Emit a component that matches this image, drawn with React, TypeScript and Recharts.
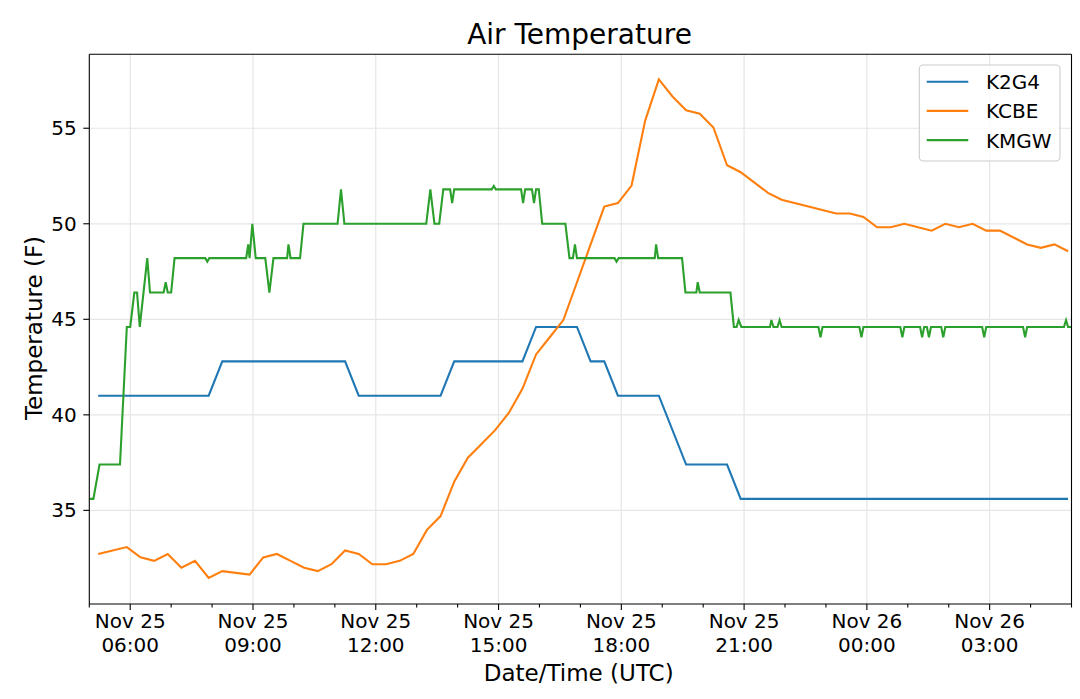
import React from 'react';
import { LineChart, Line, XAxis, YAxis, CartesianGrid } from 'recharts';

// times are minutes since Nov 25 00:00 UTC
const k2g4Times = [313, 475, 495, 675, 695, 815, 835, 935, 955, 1015, 1035, 1055, 1075, 1135, 1175, 1235, 1255, 1735];
const k2g4Temps = [41.0, 41.0, 42.8, 42.8, 41.0, 41.0, 42.8, 42.8, 44.6, 44.6, 42.8, 42.8, 41.0, 41.0, 37.4, 37.4, 35.6, 35.6];

const kcbeTimes = [
  313, 355, 375, 395, 415, 435, 455, 475, 495, 535,
  555, 575, 595, 615, 635, 655, 675, 695, 715, 735,
  755, 775, 795, 815, 835, 855, 875, 895, 915, 935,
  955, 975, 995, 1015, 1035, 1055, 1075, 1095, 1115, 1135,
  1155, 1175, 1195, 1215, 1235, 1255, 1295, 1315, 1395, 1415,
  1435, 1455, 1475, 1495, 1515, 1535, 1555, 1575, 1595, 1615,
  1635, 1655, 1675, 1695, 1715, 1735,
];
const kcbeTemps = [
  32.72, 33.08, 32.54, 32.36, 32.72, 32.0, 32.36, 31.46, 31.82, 31.64,
  32.54, 32.72, 32.36, 32.0, 31.82, 32.18, 32.9, 32.72, 32.18, 32.18,
  32.36, 32.72, 33.98, 34.7, 36.5, 37.76, 38.48, 39.2, 40.1, 41.36,
  43.16, 44.06, 44.96, 46.94, 48.92, 50.9, 51.08, 52.0, 55.4, 57.56,
  56.66, 55.94, 55.76, 55.04, 53.06, 52.7, 51.62, 51.26, 50.54, 50.54,
  50.36, 49.82, 49.82, 50.0, 49.82, 49.64, 50.0, 49.82, 50.0, 49.64,
  49.64, 49.28, 48.92, 48.74, 48.92, 48.56,
];

const kmgwTimes = [
  300, 306, 315, 345, 355, 360, 366, 370, 374, 385,
  389, 409, 412, 415, 420, 425, 470, 473, 476, 530,
  533, 535, 539, 544, 558, 564, 570, 590, 592, 595,
  609, 614, 664, 669, 674, 794, 800, 806, 813, 819,
  829, 832, 835, 890, 893, 896, 933, 936, 939, 949,
  952, 955, 959, 964, 998, 1004, 1009, 1012, 1015, 1070,
  1073, 1076, 1129, 1131, 1134, 1169, 1174, 1190, 1192, 1195,
  1240, 1245, 1249, 1252, 1256, 1298, 1300, 1303, 1309, 1312,
  1315, 1369, 1372, 1375, 1429, 1432, 1435, 1489, 1492, 1495,
  1518, 1521, 1524, 1528, 1531, 1534, 1549, 1552, 1555, 1609,
  1612, 1615, 1669, 1672, 1675, 1729, 1732, 1735, 1740,
];
const kmgwTemps = [
  35.6, 35.6, 37.4, 37.4, 44.6, 44.6, 46.4, 46.4, 44.6, 48.2,
  46.4, 46.4, 46.94, 46.4, 46.4, 48.2, 48.2, 48.02, 48.2, 48.2,
  48.92, 48.2, 50.0, 48.2, 48.2, 46.4, 48.2, 48.2, 48.92, 48.2,
  48.2, 50.0, 50.0, 51.8, 50.0, 50.0, 51.8, 50.0, 50.0, 51.8,
  51.8, 51.08, 51.8, 51.8, 51.98, 51.8, 51.8, 51.08, 51.8, 51.8,
  51.08, 51.8, 51.8, 50.0, 50.0, 48.2, 48.2, 48.92, 48.2, 48.2,
  48.02, 48.2, 48.2, 48.92, 48.2, 48.2, 46.4, 46.4, 46.94, 46.4,
  46.4, 44.6, 44.6, 44.96, 44.6, 44.6, 44.96, 44.6, 44.6, 44.96,
  44.6, 44.6, 44.06, 44.6, 44.6, 44.06, 44.6, 44.6, 44.06, 44.6,
  44.6, 44.06, 44.6, 44.6, 44.06, 44.6, 44.6, 44.06, 44.6, 44.6,
  44.06, 44.6, 44.6, 44.06, 44.6, 44.6, 44.96, 44.6, 44.6,
];

const xMajorTicks = [360, 540, 720, 900, 1080, 1260, 1440, 1620];
const xMajorDates = ['Nov 25', 'Nov 25', 'Nov 25', 'Nov 25', 'Nov 25', 'Nov 25', 'Nov 26', 'Nov 26'];
const xMajorTimes = ['06:00', '09:00', '12:00', '15:00', '18:00', '21:00', '00:00', '03:00'];
const xHourTicks = [
  300, 360, 420, 480, 540, 600, 660, 720, 780, 840, 900, 960, 1020,
  1080, 1140, 1200, 1260, 1320, 1380, 1440, 1500, 1560, 1620, 1680, 1740,
];
const yTicks = [35, 40, 45, 50, 55];
const xDomain = [300, 1740];
const yDomain = [30.1, 58.87];

const FONT = "'DejaVu Sans', sans-serif";

const zip = (ts: number[], vs: number[]) => ts.map((t, i) => ({ t, v: vs[i] }));

const series = [
  { name: 'K2G4', color: '#1f77b4', data: zip(k2g4Times, k2g4Temps) },
  { name: 'KCBE', color: '#ff7f0e', data: zip(kcbeTimes, kcbeTemps) },
  { name: 'KMGW', color: '#2ca02c', data: zip(kmgwTimes, kmgwTemps) },
];

const XTick = (props: any) => {
  const { x, y, payload } = props;
  const idx = xMajorTicks.indexOf(payload.value);
  const major = idx >= 0;
  return (
    <g>
      <line x1={x} x2={x} y1={y} y2={y + (major ? 6 : 3.5)} stroke="#000" strokeWidth={1.1} />
      {major && (
        <text textAnchor="middle" fontSize={20} fill="#000" fontFamily={FONT}>
          <tspan x={x} y={y + 24.3}>{xMajorDates[idx]}</tspan>
          <tspan x={x} y={y + 48.3}>{xMajorTimes[idx]}</tspan>
        </text>
      )}
    </g>
  );
};

export default function App() {
  return (
    <div style={{ position: 'absolute', left: 0, top: 0, width: 1080, height: 699, background: '#fff' }}>
      <LineChart
        width={1080}
        height={699}
        margin={{ top: 53.3, right: 7.5, bottom: 0, left: 9.3 }}
      >
        <CartesianGrid
          stroke="#e6e6e6"
          strokeWidth={1.2}
          verticalValues={xMajorTicks}
          horizontalValues={yTicks}
        />
        <XAxis
          type="number"
          dataKey="t"
          domain={xDomain}
          allowDataOverflow
          ticks={xHourTicks}
          interval={0}
          tick={<XTick />}
          tickLine={false}
          tickSize={0}
          tickMargin={0}
          height={95}
          stroke="#000"
          axisLine={{ stroke: '#000', strokeWidth: 1.1 }}
        />
        <XAxis
          xAxisId="top"
          orientation="top"
          type="number"
          dataKey="t"
          domain={xDomain}
          allowDataOverflow
          height={1}
          tick={false}
          tickLine={false}
          axisLine={{ stroke: '#000', strokeWidth: 1.1 }}
        />
        <YAxis
          type="number"
          domain={yDomain}
          allowDataOverflow
          ticks={yTicks}
          interval={0}
          width={80}
          tickSize={6}
          tickMargin={6.6}
          stroke="#000"
          tickLine={{ stroke: '#000', strokeWidth: 1.1 }}
          axisLine={{ stroke: '#000', strokeWidth: 1.1 }}
          tick={{ fontSize: 20, fill: '#000', fontFamily: FONT }}
        />
        <YAxis
          yAxisId="right"
          orientation="right"
          type="number"
          domain={yDomain}
          allowDataOverflow
          width={1}
          tick={false}
          tickLine={false}
          axisLine={{ stroke: '#000', strokeWidth: 1.1 }}
        />
        {series.map((s) => (
          <Line
            key={s.name}
            data={s.data}
            dataKey="v"
            name={s.name}
            type="linear"
            stroke={s.color}
            strokeWidth={2.1}
            dot={false}
            activeDot={false}
            isAnimationActive={false}
          />
        ))}
      </LineChart>
      <svg
        width={1080}
        height={699}
        style={{ position: 'absolute', left: 0, top: 0, pointerEvents: 'none' }}
      >
        <text x={579.5} y={44.3} textAnchor="middle" fontSize={28} fill="#000" fontFamily={FONT}>
          Air Temperature
        </text>
        <text x={578.7} y={680.5} textAnchor="middle" fontSize={23} fill="#000" fontFamily={FONT}>
          Date/Time (UTC)
        </text>
        <text
          x={41.7}
          y={328}
          textAnchor="middle"
          fontSize={23}
          fill="#000"
          fontFamily={FONT}
          transform="rotate(-90 41.7 328)"
        >
          Temperature (F)
        </text>
        <g>
          <rect
            x={919.3}
            y={65}
            width={140.7}
            height={96}
            rx={4}
            ry={4}
            fill="rgba(255,255,255,0.8)"
            stroke="#cccccc"
            strokeWidth={1.1}
          />
          {series.map((s, i) => (
            <g key={s.name}>
              <line
                x1={926.7}
                x2={968.3}
                y1={81.7 + i * 29.2}
                y2={81.7 + i * 29.2}
                stroke={s.color}
                strokeWidth={2.1}
              />
              <text x={986} y={89.2 + i * 29.2} fontSize={20} fill="#000" fontFamily={FONT}>
                {s.name}
              </text>
            </g>
          ))}
        </g>
      </svg>
    </div>
  );
}
